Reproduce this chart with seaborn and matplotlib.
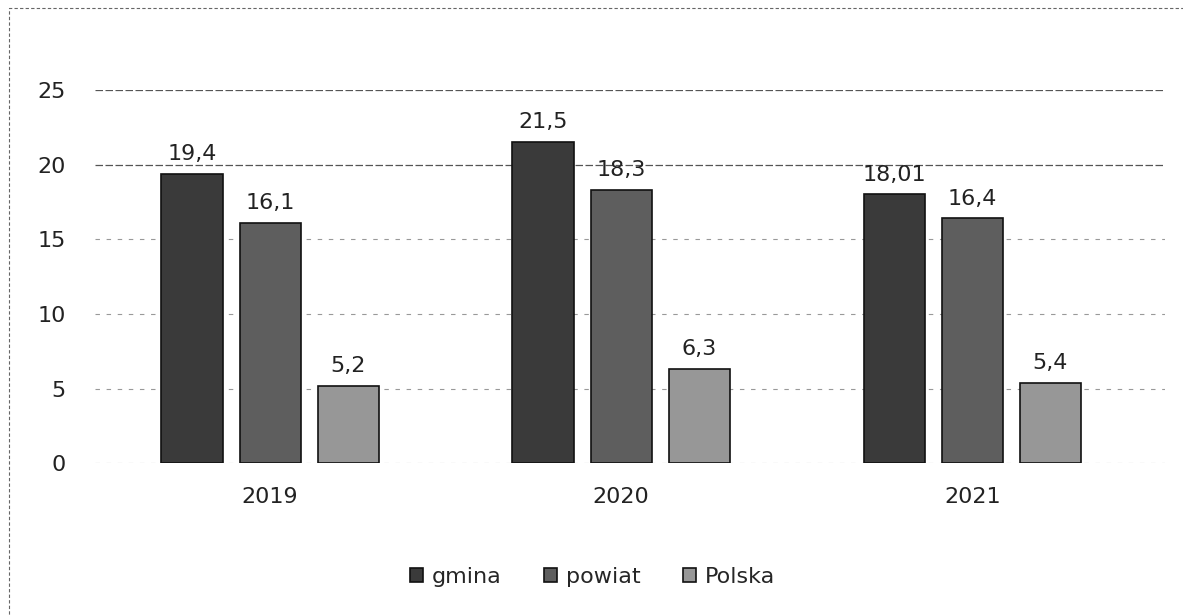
import numpy as np
import pandas as pd
import seaborn as sns
import matplotlib.pyplot as plt
from matplotlib.patches import Rectangle

# data
years = ['2019', '2020', '2021']
series = ['gmina', 'powiat', 'Polska']
gmina = [19.4, 21.5, 18.01]
powiat = [16.1, 18.3, 16.4]
polska = [5.2, 6.3, 5.4]
labels = {'gmina': ['19,4', '21,5', '18,01'],
          'powiat': ['16,1', '18,3', '16,4'],
          'Polska': ['5,2', '6,3', '5,4']}
colors = ['#3a3a3a', '#5e5e5e', '#979797']

df = pd.DataFrame({'rok': years * 3,
                   'seria': np.repeat(series, 3),
                   'wartosc': gmina + powiat + polska})

sns.set_theme(style='white')
plt.rcParams['font.family'] = ['DejaVu Sans']

fig = plt.figure(figsize=(11.83, 6.16), dpi=100)
ax = fig.add_axes([0.080, 0.248, 0.905, 0.606])

sns.barplot(data=df, x='rok', y='wartosc', hue='seria', hue_order=series,
            palette=colors, width=0.667, gap=0.215, edgecolor='#111111',
            linewidth=1.2, ax=ax, legend=True)

# value labels
for cont, s in zip(ax.containers, series):
    ax.bar_label(cont, labels=labels[s], padding=7, fontsize=16, color='#222222')

ax.set_ylim(0, 25)
ax.set_xlim(-0.5, 2.55)
ax.set_yticks([0, 5, 10, 15, 20, 25])
ax.set_xlabel('')
ax.set_ylabel('')
ax.tick_params(axis='y', labelsize=16, colors='#222222', pad=21, length=0)
ax.tick_params(axis='x', labelsize=16, colors='#222222', pad=17, length=0)
for sp in ax.spines.values():
    sp.set_visible(False)

ax.set_axisbelow(True)
for v in [0, 5, 10, 15]:
    ax.axhline(v, color='#999999', lw=0.8, ls=(0, (4, 6)), zorder=0)
for v in [20, 25]:
    ax.axhline(v, color='#555555', lw=0.9, ls=(0, (6, 2)), zorder=0)

leg = ax.legend(loc='upper center', bbox_to_anchor=(0.465, -0.225), ncol=3,
                frameon=False, fontsize=16, handlelength=0.6, handleheight=0.6,
                handletextpad=0.4, columnspacing=1.9)
for h in leg.legend_handles:
    h.set_edgecolor('#111111')

# outer frame of the scanned chart
fig.patches.append(Rectangle((0.008, -0.02), 1.1, 1.007, transform=fig.transFigure,
                             fill=False, edgecolor='#666666', lw=0.8,
                             ls=(0, (3, 2))))

fig.savefig('out.png', dpi=100)
